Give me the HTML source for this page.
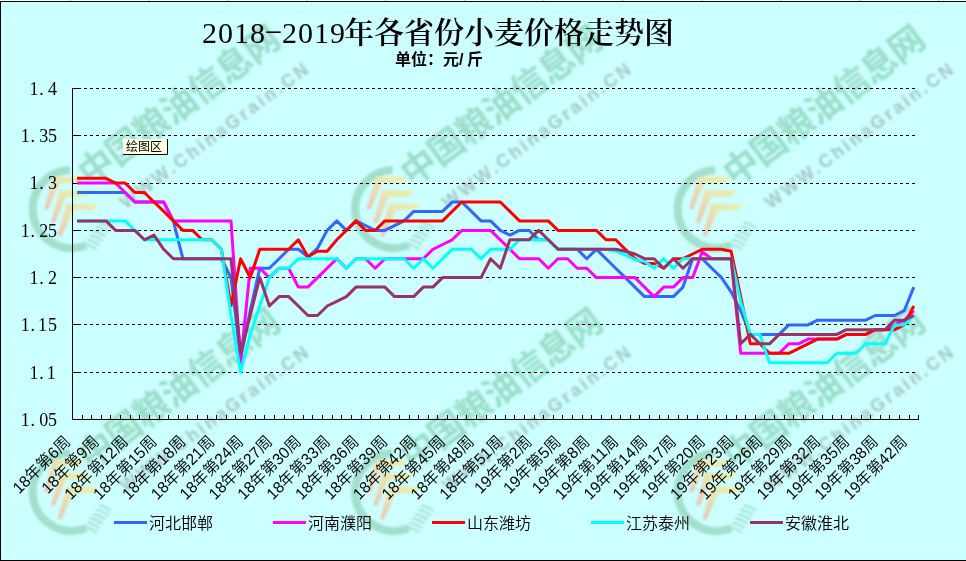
<!DOCTYPE html>
<html><head><meta charset="utf-8"><title>2018-2019年各省份小麦价格走势图</title>
<style>
html,body{margin:0;padding:0;background:#fff;}
#c{position:relative;width:966px;height:561px;overflow:hidden;background:#fff;}
svg{position:absolute;left:0;top:0;display:block;}
text{font-family:'Liberation Sans','Noto Sans CJK SC',sans-serif;}
</style></head><body><div id="c">
<svg width="966" height="561" viewBox="0 0 966 561">
<rect x="0" y="1" width="966" height="560" fill="#CCFFFF"/>

<defs>
<filter id="wb" x="-20%" y="-20%" width="140%" height="140%"><feGaussianBlur stdDeviation="0.9"/></filter><filter id="wb2" x="-10%" y="-30%" width="120%" height="160%"><feGaussianBlur stdDeviation="1.0"/></filter>
<linearGradient id="chev" x1="1" y1="0" x2="0" y2="1"><stop offset="0" stop-color="#f0ee98"/><stop offset="0.5" stop-color="#f0dca0"/><stop offset="1" stop-color="#f0b8a0"/></linearGradient>
</defs><g transform="translate(-645.0 0.0)"><path d="M715.1 170.0A39 39 0 1 0 731.1 245.2" fill="none" stroke="#98d8c0" stroke-width="8" opacity="0.8" filter="url(#wb)"/><path d="M729.0 244.0q6 0.5 12.5 5.5" fill="none" stroke="#9dd9c5" stroke-width="2.6" opacity="0.7" filter="url(#wb)"/><path d="M731.9 239.7q6 0.5 12.5 5.5" fill="none" stroke="#9dd9c5" stroke-width="2.6" opacity="0.7" filter="url(#wb)"/><path d="M734.8 235.4q6 0.5 12.5 5.5" fill="none" stroke="#9dd9c5" stroke-width="2.6" opacity="0.7" filter="url(#wb)"/><path d="M737.7 231.1q6 0.5 12.5 5.5" fill="none" stroke="#9dd9c5" stroke-width="2.6" opacity="0.7" filter="url(#wb)"/><path d="M740.6 226.8q6 0.5 12.5 5.5" fill="none" stroke="#9dd9c5" stroke-width="2.6" opacity="0.7" filter="url(#wb)"/><path d="M743.5 222.5q6 0.5 12.5 5.5" fill="none" stroke="#9dd9c5" stroke-width="2.6" opacity="0.7" filter="url(#wb)"/><path d="M698.0 176.6L730.0 177.0L724.0 183.3L704.5 183.3L693.0 209.5L689.0 209.0Z" fill="url(#chev)" opacity="0.8" filter="url(#wb)"/><path d="M704.8 190.1L736.8 190.5L730.8 196.8L711.3 196.8L699.8 223.0L695.8 222.5Z" fill="url(#chev)" opacity="0.8" filter="url(#wb)"/><path d="M711.6 203.6L743.6 204.0L737.6 210.3L718.1 210.3L706.6 236.5L702.6 236.0Z" fill="url(#chev)" opacity="0.8" filter="url(#wb)"/><g transform="translate(740 165) rotate(-36.7)" filter="url(#wb2)" opacity="0.8"><text x="-17.5" y="14.5" font-size="35" font-weight="700" letter-spacing="-0.7" fill="#8fd5bb" style="font-family:'Noto Sans CJK SC',sans-serif">中国粮油信息网</text><text x="-2" y="53.5" font-size="18" font-weight="bold" letter-spacing="2.9" fill="#9bb9b4" style="font-family:'Liberation Sans',sans-serif">WWW.ChinaGrain.CN</text></g></g><g transform="translate(-322.5 0.0)"><path d="M715.1 170.0A39 39 0 1 0 731.1 245.2" fill="none" stroke="#98d8c0" stroke-width="8" opacity="0.8" filter="url(#wb)"/><path d="M729.0 244.0q6 0.5 12.5 5.5" fill="none" stroke="#9dd9c5" stroke-width="2.6" opacity="0.7" filter="url(#wb)"/><path d="M731.9 239.7q6 0.5 12.5 5.5" fill="none" stroke="#9dd9c5" stroke-width="2.6" opacity="0.7" filter="url(#wb)"/><path d="M734.8 235.4q6 0.5 12.5 5.5" fill="none" stroke="#9dd9c5" stroke-width="2.6" opacity="0.7" filter="url(#wb)"/><path d="M737.7 231.1q6 0.5 12.5 5.5" fill="none" stroke="#9dd9c5" stroke-width="2.6" opacity="0.7" filter="url(#wb)"/><path d="M740.6 226.8q6 0.5 12.5 5.5" fill="none" stroke="#9dd9c5" stroke-width="2.6" opacity="0.7" filter="url(#wb)"/><path d="M743.5 222.5q6 0.5 12.5 5.5" fill="none" stroke="#9dd9c5" stroke-width="2.6" opacity="0.7" filter="url(#wb)"/><path d="M698.0 176.6L730.0 177.0L724.0 183.3L704.5 183.3L693.0 209.5L689.0 209.0Z" fill="url(#chev)" opacity="0.8" filter="url(#wb)"/><path d="M704.8 190.1L736.8 190.5L730.8 196.8L711.3 196.8L699.8 223.0L695.8 222.5Z" fill="url(#chev)" opacity="0.8" filter="url(#wb)"/><path d="M711.6 203.6L743.6 204.0L737.6 210.3L718.1 210.3L706.6 236.5L702.6 236.0Z" fill="url(#chev)" opacity="0.8" filter="url(#wb)"/><g transform="translate(740 165) rotate(-36.7)" filter="url(#wb2)" opacity="0.8"><text x="-17.5" y="14.5" font-size="35" font-weight="700" letter-spacing="-0.7" fill="#8fd5bb" style="font-family:'Noto Sans CJK SC',sans-serif">中国粮油信息网</text><text x="-2" y="53.5" font-size="18" font-weight="bold" letter-spacing="2.9" fill="#9bb9b4" style="font-family:'Liberation Sans',sans-serif">WWW.ChinaGrain.CN</text></g></g><g transform="translate(-0.0 0.0)"><path d="M715.1 170.0A39 39 0 1 0 731.1 245.2" fill="none" stroke="#98d8c0" stroke-width="8" opacity="0.8" filter="url(#wb)"/><path d="M729.0 244.0q6 0.5 12.5 5.5" fill="none" stroke="#9dd9c5" stroke-width="2.6" opacity="0.7" filter="url(#wb)"/><path d="M731.9 239.7q6 0.5 12.5 5.5" fill="none" stroke="#9dd9c5" stroke-width="2.6" opacity="0.7" filter="url(#wb)"/><path d="M734.8 235.4q6 0.5 12.5 5.5" fill="none" stroke="#9dd9c5" stroke-width="2.6" opacity="0.7" filter="url(#wb)"/><path d="M737.7 231.1q6 0.5 12.5 5.5" fill="none" stroke="#9dd9c5" stroke-width="2.6" opacity="0.7" filter="url(#wb)"/><path d="M740.6 226.8q6 0.5 12.5 5.5" fill="none" stroke="#9dd9c5" stroke-width="2.6" opacity="0.7" filter="url(#wb)"/><path d="M743.5 222.5q6 0.5 12.5 5.5" fill="none" stroke="#9dd9c5" stroke-width="2.6" opacity="0.7" filter="url(#wb)"/><path d="M698.0 176.6L730.0 177.0L724.0 183.3L704.5 183.3L693.0 209.5L689.0 209.0Z" fill="url(#chev)" opacity="0.8" filter="url(#wb)"/><path d="M704.8 190.1L736.8 190.5L730.8 196.8L711.3 196.8L699.8 223.0L695.8 222.5Z" fill="url(#chev)" opacity="0.8" filter="url(#wb)"/><path d="M711.6 203.6L743.6 204.0L737.6 210.3L718.1 210.3L706.6 236.5L702.6 236.0Z" fill="url(#chev)" opacity="0.8" filter="url(#wb)"/><g transform="translate(740 165) rotate(-36.7)" filter="url(#wb2)" opacity="0.8"><text x="-17.5" y="14.5" font-size="35" font-weight="700" letter-spacing="-0.7" fill="#8fd5bb" style="font-family:'Noto Sans CJK SC',sans-serif">中国粮油信息网</text><text x="-2" y="53.5" font-size="18" font-weight="bold" letter-spacing="2.9" fill="#9bb9b4" style="font-family:'Liberation Sans',sans-serif">WWW.ChinaGrain.CN</text></g></g><g transform="translate(-645.0 283.0)"><path d="M715.1 170.0A39 39 0 1 0 731.1 245.2" fill="none" stroke="#98d8c0" stroke-width="8" opacity="0.8" filter="url(#wb)"/><path d="M729.0 244.0q6 0.5 12.5 5.5" fill="none" stroke="#9dd9c5" stroke-width="2.6" opacity="0.7" filter="url(#wb)"/><path d="M731.9 239.7q6 0.5 12.5 5.5" fill="none" stroke="#9dd9c5" stroke-width="2.6" opacity="0.7" filter="url(#wb)"/><path d="M734.8 235.4q6 0.5 12.5 5.5" fill="none" stroke="#9dd9c5" stroke-width="2.6" opacity="0.7" filter="url(#wb)"/><path d="M737.7 231.1q6 0.5 12.5 5.5" fill="none" stroke="#9dd9c5" stroke-width="2.6" opacity="0.7" filter="url(#wb)"/><path d="M740.6 226.8q6 0.5 12.5 5.5" fill="none" stroke="#9dd9c5" stroke-width="2.6" opacity="0.7" filter="url(#wb)"/><path d="M743.5 222.5q6 0.5 12.5 5.5" fill="none" stroke="#9dd9c5" stroke-width="2.6" opacity="0.7" filter="url(#wb)"/><path d="M698.0 176.6L730.0 177.0L724.0 183.3L704.5 183.3L693.0 209.5L689.0 209.0Z" fill="url(#chev)" opacity="0.8" filter="url(#wb)"/><path d="M704.8 190.1L736.8 190.5L730.8 196.8L711.3 196.8L699.8 223.0L695.8 222.5Z" fill="url(#chev)" opacity="0.8" filter="url(#wb)"/><path d="M711.6 203.6L743.6 204.0L737.6 210.3L718.1 210.3L706.6 236.5L702.6 236.0Z" fill="url(#chev)" opacity="0.8" filter="url(#wb)"/><g transform="translate(740 165) rotate(-36.7)" filter="url(#wb2)" opacity="0.8"><text x="-17.5" y="14.5" font-size="35" font-weight="700" letter-spacing="-0.7" fill="#8fd5bb" style="font-family:'Noto Sans CJK SC',sans-serif">中国粮油信息网</text><text x="-2" y="53.5" font-size="18" font-weight="bold" letter-spacing="2.9" fill="#9bb9b4" style="font-family:'Liberation Sans',sans-serif">WWW.ChinaGrain.CN</text></g></g><g transform="translate(-322.5 283.0)"><path d="M715.1 170.0A39 39 0 1 0 731.1 245.2" fill="none" stroke="#98d8c0" stroke-width="8" opacity="0.8" filter="url(#wb)"/><path d="M729.0 244.0q6 0.5 12.5 5.5" fill="none" stroke="#9dd9c5" stroke-width="2.6" opacity="0.7" filter="url(#wb)"/><path d="M731.9 239.7q6 0.5 12.5 5.5" fill="none" stroke="#9dd9c5" stroke-width="2.6" opacity="0.7" filter="url(#wb)"/><path d="M734.8 235.4q6 0.5 12.5 5.5" fill="none" stroke="#9dd9c5" stroke-width="2.6" opacity="0.7" filter="url(#wb)"/><path d="M737.7 231.1q6 0.5 12.5 5.5" fill="none" stroke="#9dd9c5" stroke-width="2.6" opacity="0.7" filter="url(#wb)"/><path d="M740.6 226.8q6 0.5 12.5 5.5" fill="none" stroke="#9dd9c5" stroke-width="2.6" opacity="0.7" filter="url(#wb)"/><path d="M743.5 222.5q6 0.5 12.5 5.5" fill="none" stroke="#9dd9c5" stroke-width="2.6" opacity="0.7" filter="url(#wb)"/><path d="M698.0 176.6L730.0 177.0L724.0 183.3L704.5 183.3L693.0 209.5L689.0 209.0Z" fill="url(#chev)" opacity="0.8" filter="url(#wb)"/><path d="M704.8 190.1L736.8 190.5L730.8 196.8L711.3 196.8L699.8 223.0L695.8 222.5Z" fill="url(#chev)" opacity="0.8" filter="url(#wb)"/><path d="M711.6 203.6L743.6 204.0L737.6 210.3L718.1 210.3L706.6 236.5L702.6 236.0Z" fill="url(#chev)" opacity="0.8" filter="url(#wb)"/><g transform="translate(740 165) rotate(-36.7)" filter="url(#wb2)" opacity="0.8"><text x="-17.5" y="14.5" font-size="35" font-weight="700" letter-spacing="-0.7" fill="#8fd5bb" style="font-family:'Noto Sans CJK SC',sans-serif">中国粮油信息网</text><text x="-2" y="53.5" font-size="18" font-weight="bold" letter-spacing="2.9" fill="#9bb9b4" style="font-family:'Liberation Sans',sans-serif">WWW.ChinaGrain.CN</text></g></g><g transform="translate(-0.0 283.0)"><path d="M715.1 170.0A39 39 0 1 0 731.1 245.2" fill="none" stroke="#98d8c0" stroke-width="8" opacity="0.8" filter="url(#wb)"/><path d="M729.0 244.0q6 0.5 12.5 5.5" fill="none" stroke="#9dd9c5" stroke-width="2.6" opacity="0.7" filter="url(#wb)"/><path d="M731.9 239.7q6 0.5 12.5 5.5" fill="none" stroke="#9dd9c5" stroke-width="2.6" opacity="0.7" filter="url(#wb)"/><path d="M734.8 235.4q6 0.5 12.5 5.5" fill="none" stroke="#9dd9c5" stroke-width="2.6" opacity="0.7" filter="url(#wb)"/><path d="M737.7 231.1q6 0.5 12.5 5.5" fill="none" stroke="#9dd9c5" stroke-width="2.6" opacity="0.7" filter="url(#wb)"/><path d="M740.6 226.8q6 0.5 12.5 5.5" fill="none" stroke="#9dd9c5" stroke-width="2.6" opacity="0.7" filter="url(#wb)"/><path d="M743.5 222.5q6 0.5 12.5 5.5" fill="none" stroke="#9dd9c5" stroke-width="2.6" opacity="0.7" filter="url(#wb)"/><path d="M698.0 176.6L730.0 177.0L724.0 183.3L704.5 183.3L693.0 209.5L689.0 209.0Z" fill="url(#chev)" opacity="0.8" filter="url(#wb)"/><path d="M704.8 190.1L736.8 190.5L730.8 196.8L711.3 196.8L699.8 223.0L695.8 222.5Z" fill="url(#chev)" opacity="0.8" filter="url(#wb)"/><path d="M711.6 203.6L743.6 204.0L737.6 210.3L718.1 210.3L706.6 236.5L702.6 236.0Z" fill="url(#chev)" opacity="0.8" filter="url(#wb)"/><g transform="translate(740 165) rotate(-36.7)" filter="url(#wb2)" opacity="0.8"><text x="-17.5" y="14.5" font-size="35" font-weight="700" letter-spacing="-0.7" fill="#8fd5bb" style="font-family:'Noto Sans CJK SC',sans-serif">中国粮油信息网</text><text x="-2" y="53.5" font-size="18" font-weight="bold" letter-spacing="2.9" fill="#9bb9b4" style="font-family:'Liberation Sans',sans-serif">WWW.ChinaGrain.CN</text></g></g>
<g shape-rendering="crispEdges"><line x1="72" y1="88.5" x2="917" y2="88.5" stroke="#000" stroke-width="1" stroke-dasharray="3 3"/><line x1="72" y1="88.5" x2="81" y2="88.5" stroke="#000" stroke-width="1"/><line x1="72" y1="135.5" x2="917" y2="135.5" stroke="#000" stroke-width="1" stroke-dasharray="3 3"/><line x1="72" y1="135.5" x2="81" y2="135.5" stroke="#000" stroke-width="1"/><line x1="72" y1="183.5" x2="917" y2="183.5" stroke="#000" stroke-width="1" stroke-dasharray="3 3"/><line x1="72" y1="183.5" x2="81" y2="183.5" stroke="#000" stroke-width="1"/><line x1="72" y1="230.5" x2="917" y2="230.5" stroke="#000" stroke-width="1" stroke-dasharray="3 3"/><line x1="72" y1="230.5" x2="81" y2="230.5" stroke="#000" stroke-width="1"/><line x1="72" y1="277.5" x2="917" y2="277.5" stroke="#000" stroke-width="1" stroke-dasharray="3 3"/><line x1="72" y1="277.5" x2="81" y2="277.5" stroke="#000" stroke-width="1"/><line x1="72" y1="324.5" x2="917" y2="324.5" stroke="#000" stroke-width="1" stroke-dasharray="3 3"/><line x1="72" y1="324.5" x2="81" y2="324.5" stroke="#000" stroke-width="1"/><line x1="72" y1="372.5" x2="917" y2="372.5" stroke="#000" stroke-width="1" stroke-dasharray="3 3"/><line x1="72" y1="372.5" x2="81" y2="372.5" stroke="#000" stroke-width="1"/>
<line x1="72.5" y1="88" x2="72.5" y2="420" stroke="#000" stroke-width="1"/>
<line x1="72" y1="419.5" x2="919" y2="419.5" stroke="#000" stroke-width="1"/>
<path d="M82.5 415V419M91.5 415V419M101.5 415V419M110.5 415V419M120.5 415V419M130.5 415V419M139.5 415V419M149.5 415V419M159.5 415V419M168.5 415V419M178.5 415V419M187.5 415V419M197.5 415V419M207.5 415V419M216.5 415V419M226.5 415V419M235.5 415V419M245.5 415V419M255.5 415V419M264.5 415V419M274.5 415V419M284.5 415V419M293.5 415V419M303.5 415V419M312.5 415V419M322.5 415V419M332.5 415V419M341.5 415V419M351.5 415V419M361.5 415V419M370.5 415V419M380.5 415V419M389.5 415V419M399.5 415V419M409.5 415V419M418.5 415V419M428.5 415V419M437.5 415V419M447.5 415V419M457.5 415V419M466.5 415V419M476.5 415V419M486.5 415V419M495.5 415V419M505.5 415V419M514.5 415V419M524.5 415V419M534.5 415V419M543.5 415V419M553.5 415V419M562.5 415V419M572.5 415V419M582.5 415V419M591.5 415V419M601.5 415V419M611.5 415V419M620.5 415V419M630.5 415V419M639.5 415V419M649.5 415V419M659.5 415V419M668.5 415V419M678.5 415V419M687.5 415V419M697.5 415V419M707.5 415V419M716.5 415V419M726.5 415V419M736.5 415V419M745.5 415V419M755.5 415V419M764.5 415V419M774.5 415V419M784.5 415V419M793.5 415V419M803.5 415V419M813.5 415V419M822.5 415V419M832.5 415V419M841.5 415V419M851.5 415V419M861.5 415V419M870.5 415V419M880.5 415V419M889.5 415V419M899.5 415V419M909.5 415V419M918.5 415V419" stroke="#000" stroke-width="1" fill="none"/>
</g>
<text x="29.4 39.3 48.0" y="94.8" font-size="18" style="font-family:'Liberation Serif',serif">1.4</text><text x="20.7 30.6 39.3 48.0" y="142.1" font-size="18" style="font-family:'Liberation Serif',serif">1.35</text><text x="29.4 39.3 48.0" y="189.4" font-size="18" style="font-family:'Liberation Serif',serif">1.3</text><text x="20.7 30.6 39.3 48.0" y="236.7" font-size="18" style="font-family:'Liberation Serif',serif">1.25</text><text x="29.4 39.3 48.0" y="283.9" font-size="18" style="font-family:'Liberation Serif',serif">1.2</text><text x="20.7 30.6 38.1 48.0" y="331.2" font-size="18" style="font-family:'Liberation Serif',serif">1.15</text><text x="29.4 39.3 46.8" y="378.5" font-size="18" style="font-family:'Liberation Serif',serif">1.1</text><text x="20.7 30.6 39.3 48.0" y="425.8" font-size="18" style="font-family:'Liberation Serif',serif">1.05</text>
<g><text transform="translate(71.3 442.5) rotate(-45)" text-anchor="end" font-size="16" font-weight="350" textLength="73.7" lengthAdjust="spacingAndGlyphs">18年第6周</text><text transform="translate(100.2 442.5) rotate(-45)" text-anchor="end" font-size="16" font-weight="350" textLength="73.7" lengthAdjust="spacingAndGlyphs">18年第9周</text><text transform="translate(129.0 442.5) rotate(-45)" text-anchor="end" font-size="16" font-weight="350" textLength="82.1" lengthAdjust="spacingAndGlyphs">18年第12周</text><text transform="translate(157.9 442.5) rotate(-45)" text-anchor="end" font-size="16" font-weight="350" textLength="82.1" lengthAdjust="spacingAndGlyphs">18年第15周</text><text transform="translate(186.7 442.5) rotate(-45)" text-anchor="end" font-size="16" font-weight="350" textLength="82.1" lengthAdjust="spacingAndGlyphs">18年第18周</text><text transform="translate(215.6 442.5) rotate(-45)" text-anchor="end" font-size="16" font-weight="350" textLength="82.1" lengthAdjust="spacingAndGlyphs">18年第21周</text><text transform="translate(244.4 442.5) rotate(-45)" text-anchor="end" font-size="16" font-weight="350" textLength="82.1" lengthAdjust="spacingAndGlyphs">18年第24周</text><text transform="translate(273.3 442.5) rotate(-45)" text-anchor="end" font-size="16" font-weight="350" textLength="82.1" lengthAdjust="spacingAndGlyphs">18年第27周</text><text transform="translate(302.1 442.5) rotate(-45)" text-anchor="end" font-size="16" font-weight="350" textLength="82.1" lengthAdjust="spacingAndGlyphs">18年第30周</text><text transform="translate(331.0 442.5) rotate(-45)" text-anchor="end" font-size="16" font-weight="350" textLength="82.1" lengthAdjust="spacingAndGlyphs">18年第33周</text><text transform="translate(359.8 442.5) rotate(-45)" text-anchor="end" font-size="16" font-weight="350" textLength="82.1" lengthAdjust="spacingAndGlyphs">18年第36周</text><text transform="translate(388.7 442.5) rotate(-45)" text-anchor="end" font-size="16" font-weight="350" textLength="82.1" lengthAdjust="spacingAndGlyphs">18年第39周</text><text transform="translate(417.5 442.5) rotate(-45)" text-anchor="end" font-size="16" font-weight="350" textLength="82.1" lengthAdjust="spacingAndGlyphs">18年第42周</text><text transform="translate(446.4 442.5) rotate(-45)" text-anchor="end" font-size="16" font-weight="350" textLength="82.1" lengthAdjust="spacingAndGlyphs">18年第45周</text><text transform="translate(475.2 442.5) rotate(-45)" text-anchor="end" font-size="16" font-weight="350" textLength="82.1" lengthAdjust="spacingAndGlyphs">18年第48周</text><text transform="translate(504.1 442.5) rotate(-45)" text-anchor="end" font-size="16" font-weight="350" textLength="82.1" lengthAdjust="spacingAndGlyphs">18年第51周</text><text transform="translate(532.9 442.5) rotate(-45)" text-anchor="end" font-size="16" font-weight="350" textLength="73.7" lengthAdjust="spacingAndGlyphs">19年第2周</text><text transform="translate(561.8 442.5) rotate(-45)" text-anchor="end" font-size="16" font-weight="350" textLength="73.7" lengthAdjust="spacingAndGlyphs">19年第5周</text><text transform="translate(590.6 442.5) rotate(-45)" text-anchor="end" font-size="16" font-weight="350" textLength="73.7" lengthAdjust="spacingAndGlyphs">19年第8周</text><text transform="translate(619.5 442.5) rotate(-45)" text-anchor="end" font-size="16" font-weight="350" textLength="82.1" lengthAdjust="spacingAndGlyphs">19年第11周</text><text transform="translate(648.3 442.5) rotate(-45)" text-anchor="end" font-size="16" font-weight="350" textLength="82.1" lengthAdjust="spacingAndGlyphs">19年第14周</text><text transform="translate(677.2 442.5) rotate(-45)" text-anchor="end" font-size="16" font-weight="350" textLength="82.1" lengthAdjust="spacingAndGlyphs">19年第17周</text><text transform="translate(706.0 442.5) rotate(-45)" text-anchor="end" font-size="16" font-weight="350" textLength="82.1" lengthAdjust="spacingAndGlyphs">19年第20周</text><text transform="translate(734.9 442.5) rotate(-45)" text-anchor="end" font-size="16" font-weight="350" textLength="82.1" lengthAdjust="spacingAndGlyphs">19年第23周</text><text transform="translate(763.7 442.5) rotate(-45)" text-anchor="end" font-size="16" font-weight="350" textLength="82.1" lengthAdjust="spacingAndGlyphs">19年第26周</text><text transform="translate(792.6 442.5) rotate(-45)" text-anchor="end" font-size="16" font-weight="350" textLength="82.1" lengthAdjust="spacingAndGlyphs">19年第29周</text><text transform="translate(821.4 442.5) rotate(-45)" text-anchor="end" font-size="16" font-weight="350" textLength="82.1" lengthAdjust="spacingAndGlyphs">19年第32周</text><text transform="translate(850.3 442.5) rotate(-45)" text-anchor="end" font-size="16" font-weight="350" textLength="82.1" lengthAdjust="spacingAndGlyphs">19年第35周</text><text transform="translate(879.1 442.5) rotate(-45)" text-anchor="end" font-size="16" font-weight="350" textLength="82.1" lengthAdjust="spacingAndGlyphs">19年第38周</text><text transform="translate(908.0 442.5) rotate(-45)" text-anchor="end" font-size="16" font-weight="350" textLength="82.1" lengthAdjust="spacingAndGlyphs">19年第42周</text></g>
<polyline points="77.1,192.5 86.7,192.5 96.3,192.5 106.0,192.5 115.6,192.5 125.2,192.5 134.8,202.0 144.4,202.0 154.0,202.0 163.7,202.0 173.3,220.9 182.9,258.7 192.5,258.7 202.1,258.7 211.7,258.7 221.4,258.7 231.0,277.6 240.6,358.0 250.2,310.7 259.8,268.2 269.4,268.2 279.1,258.7 288.7,249.3 298.3,249.3 307.9,256.8 317.5,248.3 327.2,230.4 336.8,220.9 346.4,230.4 356.0,220.9 365.6,225.6 375.2,230.4 384.9,230.4 394.5,225.6 404.1,220.9 413.7,211.4 423.3,211.4 432.9,211.4 442.6,211.4 452.2,202.0 461.8,202.0 471.4,211.4 481.0,220.9 490.6,220.9 500.3,230.4 509.9,235.1 519.5,230.4 529.1,230.4 538.7,239.8 548.3,239.8 558.0,249.3 567.6,249.3 577.2,249.3 586.8,258.7 596.4,249.3 606.0,258.7 615.7,268.2 625.3,277.6 634.9,287.1 644.5,296.6 654.1,296.6 663.7,296.6 673.4,296.6 683.0,287.1 692.6,258.7 702.2,258.7 711.8,268.2 721.5,277.6 731.1,291.8 740.7,310.7 750.3,334.4 759.9,334.4 769.5,334.4 779.2,334.4 788.8,324.9 798.4,324.9 808.0,324.9 817.6,320.2 827.2,320.2 836.9,320.2 846.5,320.2 856.1,320.2 865.7,320.2 875.3,315.5 884.9,315.5 894.6,315.5 904.2,310.7 913.8,287.1" fill="none" stroke="#3366FF" stroke-width="3" stroke-linejoin="round"/>
<polyline points="77.1,183.1 86.7,183.1 96.3,183.1 106.0,183.1 115.6,183.1 125.2,192.5 134.8,202.0 144.4,202.0 154.0,202.0 163.7,202.0 173.3,220.9 182.9,220.9 192.5,220.9 202.1,220.9 211.7,220.9 221.4,220.9 231.0,220.9 240.6,362.8 250.2,268.2 259.8,268.2 269.4,277.6 279.1,268.2 288.7,268.2 298.3,287.1 307.9,287.1 317.5,277.6 327.2,268.2 336.8,258.7 346.4,268.2 356.0,258.7 365.6,258.7 375.2,268.2 384.9,258.7 394.5,258.7 404.1,258.7 413.7,258.7 423.3,258.7 432.9,249.3 442.6,244.5 452.2,239.8 461.8,230.4 471.4,230.4 481.0,230.4 490.6,230.4 500.3,239.8 509.9,249.3 519.5,258.7 529.1,258.7 538.7,258.7 548.3,268.2 558.0,258.7 567.6,258.7 577.2,268.2 586.8,268.2 596.4,277.6 606.0,277.6 615.7,277.6 625.3,277.6 634.9,277.6 644.5,287.1 654.1,296.6 663.7,287.1 673.4,287.1 683.0,277.6 692.6,277.6 702.2,252.1 711.8,258.7 721.5,258.7 731.1,258.7 740.7,353.3 750.3,353.3 759.9,353.3 769.5,353.3 779.2,353.3 788.8,343.8 798.4,343.8 808.0,339.1 817.6,339.1 827.2,339.1 836.9,339.1 846.5,334.4 856.1,334.4 865.7,334.4 875.3,329.7 884.9,329.7 894.6,324.9 904.2,320.2 913.8,310.7" fill="none" stroke="#FF00FF" stroke-width="3" stroke-linejoin="round"/>
<polyline points="77.1,178.3 86.7,178.3 96.3,178.3 106.0,178.3 115.6,183.1 125.2,183.1 134.8,192.5 144.4,192.5 154.0,202.0 163.7,211.4 173.3,220.9 182.9,230.4 192.5,230.4 202.1,239.8 211.7,239.8 221.4,249.3 231.0,306.0 240.6,258.7 250.2,277.6 259.8,249.3 269.4,249.3 279.1,249.3 288.7,249.3 298.3,239.8 307.9,256.8 317.5,251.2 327.2,251.2 336.8,239.8 346.4,230.4 356.0,220.9 365.6,230.4 375.2,230.4 384.9,220.9 394.5,220.9 404.1,220.9 413.7,220.9 423.3,220.9 432.9,220.9 442.6,220.9 452.2,211.4 461.8,202.0 471.4,202.0 481.0,202.0 490.6,202.0 500.3,202.0 509.9,211.4 519.5,220.9 529.1,220.9 538.7,220.9 548.3,220.9 558.0,230.4 567.6,230.4 577.2,230.4 586.8,230.4 596.4,230.4 606.0,239.8 615.7,239.8 625.3,249.3 634.9,258.7 644.5,263.5 654.1,263.5 663.7,268.2 673.4,258.7 683.0,258.7 692.6,254.0 702.2,249.3 711.8,249.3 721.5,249.3 731.1,251.2 740.7,296.6 750.3,343.8 759.9,343.8 769.5,353.3 779.2,353.3 788.8,353.3 798.4,348.6 808.0,343.8 817.6,339.1 827.2,339.1 836.9,339.1 846.5,334.4 856.1,334.4 865.7,334.4 875.3,329.7 884.9,329.7 894.6,329.7 904.2,324.9 913.8,306.0" fill="none" stroke="#FF0000" stroke-width="3" stroke-linejoin="round"/>
<polyline points="77.1,220.9 86.7,220.9 96.3,220.9 106.0,220.9 115.6,220.9 125.2,220.9 134.8,230.4 144.4,239.8 154.0,239.8 163.7,239.8 173.3,239.8 182.9,239.8 192.5,239.8 202.1,239.8 211.7,239.8 221.4,249.3 231.0,315.5 240.6,372.2 250.2,334.4 259.8,306.0 269.4,277.6 279.1,268.2 288.7,268.2 298.3,258.7 307.9,258.7 317.5,258.7 327.2,258.7 336.8,258.7 346.4,268.2 356.0,258.7 365.6,258.7 375.2,258.7 384.9,258.7 394.5,258.7 404.1,258.7 413.7,268.2 423.3,258.7 432.9,268.2 442.6,258.7 452.2,249.3 461.8,249.3 471.4,249.3 481.0,258.7 490.6,249.3 500.3,249.3 509.9,249.3 519.5,239.8 529.1,239.8 538.7,239.8 548.3,239.8 558.0,249.3 567.6,249.3 577.2,249.3 586.8,249.3 596.4,249.3 606.0,249.3 615.7,251.2 625.3,254.9 634.9,259.7 644.5,261.6 654.1,268.2 663.7,258.7 673.4,268.2 683.0,258.7 692.6,258.7 702.2,258.7 711.8,258.7 721.5,258.7 731.1,258.7 740.7,301.3 750.3,334.4 759.9,334.4 769.5,362.8 779.2,362.8 788.8,362.8 798.4,362.8 808.0,362.8 817.6,362.8 827.2,362.8 836.9,353.3 846.5,353.3 856.1,353.3 865.7,343.8 875.3,343.8 884.9,343.8 894.6,324.9 904.2,324.9 913.8,315.5" fill="none" stroke="#00FFFF" stroke-width="3" stroke-linejoin="round"/>
<polyline points="77.1,220.9 86.7,220.9 96.3,220.9 106.0,220.9 115.6,230.4 125.2,230.4 134.8,230.4 144.4,239.8 154.0,235.1 163.7,249.3 173.3,258.7 182.9,258.7 192.5,258.7 202.1,258.7 211.7,258.7 221.4,258.7 231.0,258.7 240.6,353.3 250.2,315.5 259.8,277.6 269.4,306.0 279.1,296.6 288.7,296.6 298.3,306.0 307.9,315.5 317.5,315.5 327.2,306.0 336.8,301.3 346.4,296.6 356.0,287.1 365.6,287.1 375.2,287.1 384.9,287.1 394.5,296.6 404.1,296.6 413.7,296.6 423.3,287.1 432.9,287.1 442.6,277.6 452.2,277.6 461.8,277.6 471.4,277.6 481.0,277.6 490.6,258.7 500.3,268.2 509.9,239.8 519.5,239.8 529.1,239.8 538.7,230.4 548.3,239.8 558.0,249.3 567.6,249.3 577.2,249.3 586.8,249.3 596.4,249.3 606.0,249.3 615.7,249.3 625.3,251.2 634.9,254.0 644.5,258.7 654.1,258.7 663.7,268.2 673.4,258.7 683.0,268.2 692.6,258.7 702.2,258.7 711.8,258.7 721.5,258.7 731.1,258.7 740.7,343.8 750.3,334.4 759.9,343.8 769.5,343.8 779.2,334.4 788.8,334.4 798.4,334.4 808.0,334.4 817.6,334.4 827.2,334.4 836.9,334.4 846.5,329.7 856.1,329.7 865.7,329.7 875.3,329.7 884.9,329.7 894.6,320.2 904.2,320.2 913.8,315.5" fill="none" stroke="#993366" stroke-width="3" stroke-linejoin="round"/>
<line x1="114" y1="522.5" x2="147" y2="522.5" stroke="#3366FF" stroke-width="3"/>
<text x="149" y="529" font-size="16" font-weight="350">河北邯郸</text>
<line x1="273" y1="522.5" x2="306" y2="522.5" stroke="#FF00FF" stroke-width="3"/>
<text x="308" y="529" font-size="16" font-weight="350">河南濮阳</text>
<line x1="432" y1="522.5" x2="465" y2="522.5" stroke="#FF0000" stroke-width="3"/>
<text x="467" y="529" font-size="16" font-weight="350">山东潍坊</text>
<line x1="591" y1="522.5" x2="624" y2="522.5" stroke="#00FFFF" stroke-width="3"/>
<text x="626" y="529" font-size="16" font-weight="350">江苏泰州</text>
<line x1="750" y1="522.5" x2="783" y2="522.5" stroke="#993366" stroke-width="3"/>
<text x="785" y="529" font-size="16" font-weight="350">安徽淮北</text>
<text x="202 218 234 250" y="42.5" font-size="30" style="font-family:'Liberation Serif',serif">2018</text>
<text transform="translate(268 30.4) scale(1.85 0.7)" x="-2" y="9" font-size="30" style="font-family:'Liberation Serif',serif">-</text>
<text x="282 298 314 330 344 374 404 434 464 494 524 554 584 614 644" y="42.5" font-size="30" style="font-family:'Liberation Serif','Noto Serif CJK SC',serif"><tspan>2019</tspan><tspan font-weight="600">年各省份小麦价格走势图</tspan></text>
<text x="395 411 427 443 459 467" y="65" font-size="16" font-weight="bold" style="font-family:'Liberation Sans','Noto Sans CJK SC',sans-serif">单位：元/斤</text>
<rect x="123" y="139" width="44" height="15" fill="#FFFFE1"/>
<path d="M167.5 139V154.5H123" stroke="#000" fill="none" stroke-width="1"/>
<text x="126" y="150.5" font-size="12">绘图区</text>
<path d="M69.6 0h1M148.6 0h1M227.5 0h1M306.5 0h1M385.4 0h1M464.4 0h1M543.3 0h1M622.2 0h1M701.2 0h1M780.2 0h1M859.1 0h1M938.1 0h1" stroke="#b0b0b0" stroke-width="1.2" transform="translate(0 0.5)"/>
<path d="M0.5 561V1.5H966" stroke="#000" stroke-width="1" fill="none" shape-rendering="crispEdges"/>
<line x1="0" y1="560.5" x2="966" y2="560.5" stroke="#000" stroke-width="1" shape-rendering="crispEdges"/>
</svg></div></body></html>
